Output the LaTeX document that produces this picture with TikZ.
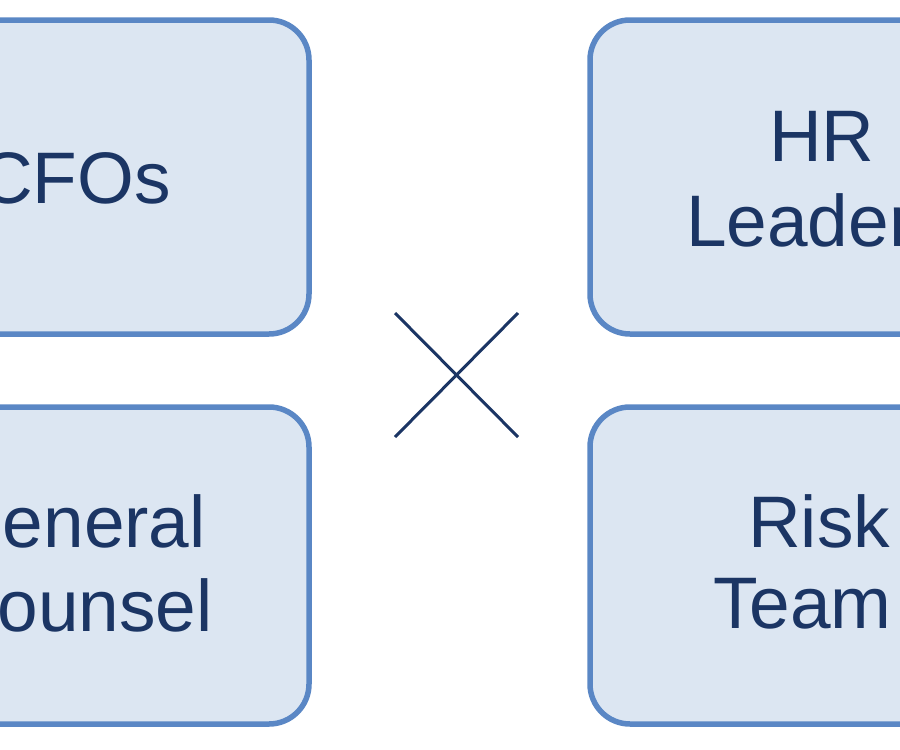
\documentclass[tikz,border=0pt]{standalone}
\usepackage{fontspec}
\setmainfont{Liberation Sans}
\begin{document}
\begin{tikzpicture}[x=1pt,y=-1pt,
  box/.style={draw=boxline,line width=5.5pt,fill=boxfill,rounded corners=40pt},
  lbl/.style={text=txt,font=\fontsize{73}{84}\selectfont,inner sep=0pt},
  cross/.style={draw=txt,line width=3pt}]
\definecolor{boxline}{HTML}{5A87C5}
\definecolor{boxfill}{HTML}{DCE6F2}
\definecolor{txt}{HTML}{1B3564}
\useasboundingbox (0,0) rectangle (900,750);
\begin{scope}
\clip (0,0) rectangle (900,750);
\draw[box] (-200,20) rectangle (309,334);
\draw[box] (-200,407) rectangle (309,724);
\draw[box] (590,20) rectangle (1100,334);
\draw[box] (590,407) rectangle (1100,724);
\node[lbl,anchor=east] (cfo) at (171,178) {CFOs};
\node[lbl] (hr) at (822,136) {HR};
\node[lbl,anchor=west] (hrl) at (686,220) {Leaders};
\node[lbl,anchor=east] (gen) at (206,521) {General};
\node[lbl,anchor=east] (cou) at (213,605) {Counsel};
\node[lbl,anchor=west] (risk) at (748,521) {Risk};
\node[lbl,anchor=west] (team) at (713,604) {Team};
\end{scope}
\coordinate (a1) at (395,313); \coordinate (a2) at (518,437);
\coordinate (b1) at (518,313); \coordinate (b2) at (395,437);
\draw[cross] (a1) -- (a2);
\draw[cross] (b1) -- (b2);
\end{tikzpicture}
\end{document}
